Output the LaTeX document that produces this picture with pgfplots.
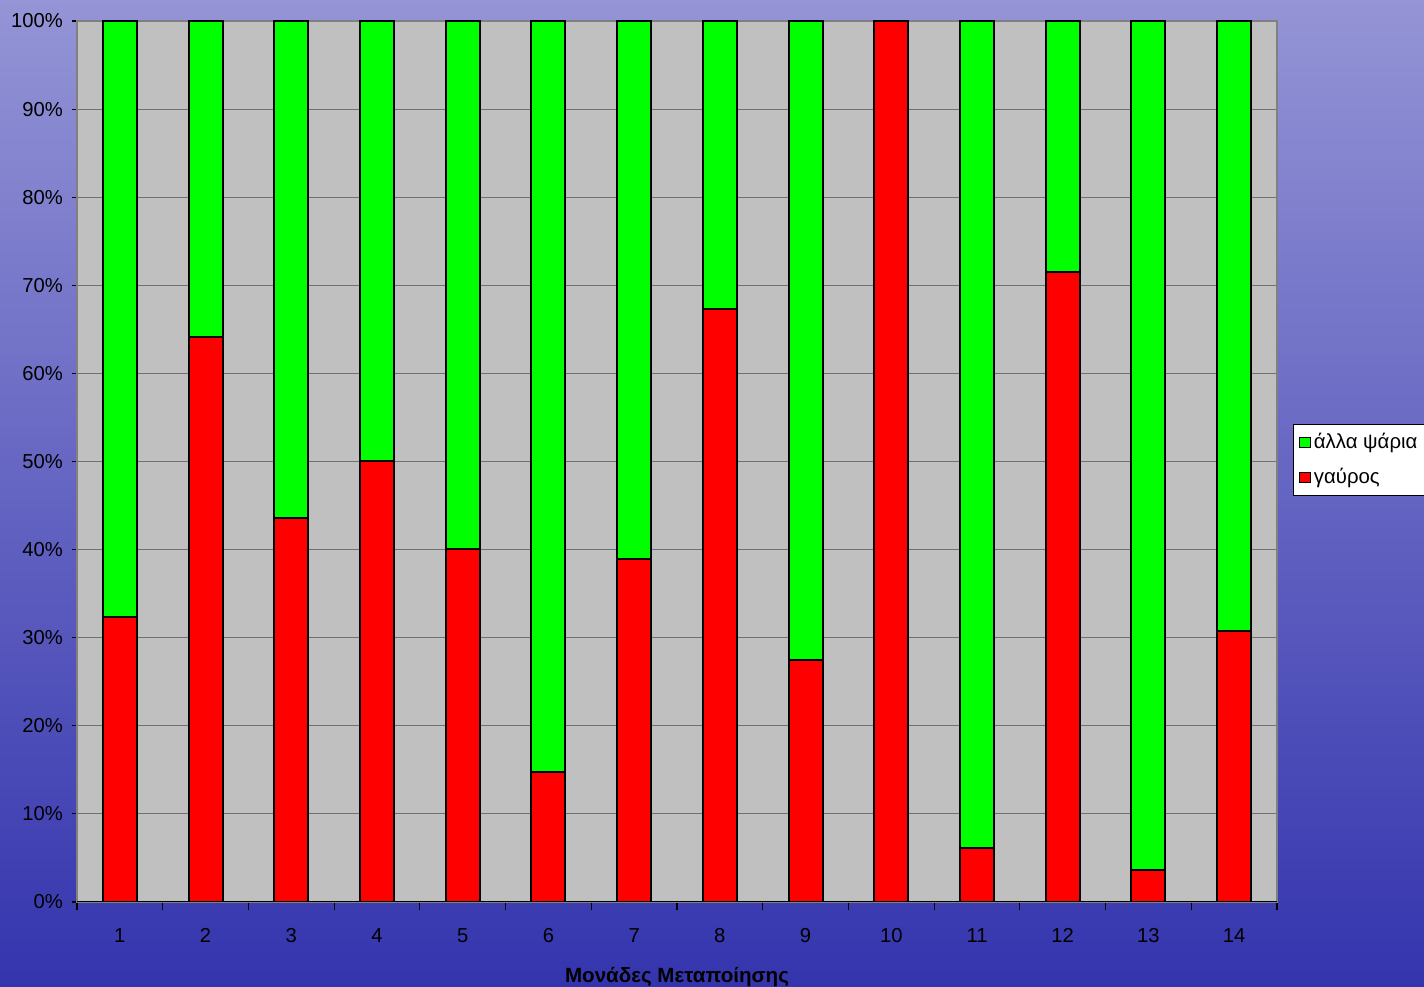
\documentclass[border=0pt]{standalone}
\usepackage{fontspec}
\setmainfont{Liberation Sans}
\usepackage{pgfplots}
\pgfplotsset{compat=1.18}
\definecolor{bargreen}{HTML}{00FF00}
\definecolor{barred}{HTML}{FF0000}
\definecolor{plotgray}{HTML}{C0C0C0}
\definecolor{gridgray}{HTML}{707070}
\definecolor{bordergray}{HTML}{808080}
\definecolor{bgtop}{HTML}{9494D6}
\definecolor{bgmid}{HTML}{5C5CC0}
\definecolor{bgbot}{HTML}{3434AE}
\begin{document}
\begin{tikzpicture}
\useasboundingbox (0,0) rectangle (284.8mm,197.4mm);
\clip (0,0) rectangle (284.8mm,197.4mm);
\shade[top color=bgtop, middle color=bgmid, bottom color=bgbot] (0,0) rectangle (284.8mm,197.4mm);
\begin{axis}[
  at={(15.4mm,17mm)}, anchor=south west,
  scale only axis, width=240mm, height=176.2mm,
  ybar stacked, bar width=6.8mm,
  xmin=0.5, xmax=14.5, ymin=0, ymax=100,
  xtick={1,...,14},
  minor xtick={0.5,1.5,...,14.5},
  major x tick style={draw=none},
  minor tick length=1.6mm,
  ytick={0,10,...,100},
  major tick length=1mm,
  tick align=outside,
  xtick pos=bottom, ytick pos=left,
  tick style={black, line width=0.6pt},
  yticklabel={\pgfmathprintnumber{\tick}\%},
  /pgf/number format/assume math mode=true,
  ymajorgrids, grid style={gridgray, line width=0.6pt},
  axis line style={bordergray, line width=1.1pt},
  axis background/.style={fill=plotgray},
  tick label style={font=\fontsize{11.5}{13}\selectfont, black},
  xticklabel style={yshift=-3.1mm},
  yticklabel style={xshift=-0.6mm},
  xlabel={Μονάδες Μεταποίησης},
  xlabel style={font=\fontsize{11.7}{13}\selectfont\bfseries, at={(axis description cs:0.5,-0.085)}, anchor=center},
  legend style={at={(1.0133,0.5426)}, anchor=north west, draw=black, line width=0.6pt, fill=white,
    font=\fontsize{11.6}{13}\selectfont, inner sep=1.1mm, row sep=2mm, cells={anchor=west}},
  legend image code/.code={\draw[#1, draw=black, line width=0.5pt] (0mm,-1.05mm) rectangle (2.1mm,1.05mm);},
  reverse legend,
]
\addplot[fill=barred, draw=black, line width=1.1pt] coordinates {
(1,32.3) (2,64.1) (3,43.6) (4,50.1) (5,40.1) (6,14.8) (7,38.9) (8,67.3) (9,27.5) (10,100) (11,6.1) (12,71.5) (13,3.6) (14,30.8)};
\addlegendentry{γαύρος}
\addplot[fill=bargreen, draw=black, line width=1.1pt] coordinates {
(1,67.7) (2,35.9) (3,56.4) (4,49.9) (5,59.9) (6,85.2) (7,61.1) (8,32.7) (9,72.5) (10,0) (11,93.9) (12,28.5) (13,96.4) (14,69.2)};
\addlegendentry{άλλα ψάρια}
\draw[black, line width=1.1pt] (rel axis cs:0,0) -- (rel axis cs:1,0);
\end{axis}
\end{tikzpicture}
\end{document}
